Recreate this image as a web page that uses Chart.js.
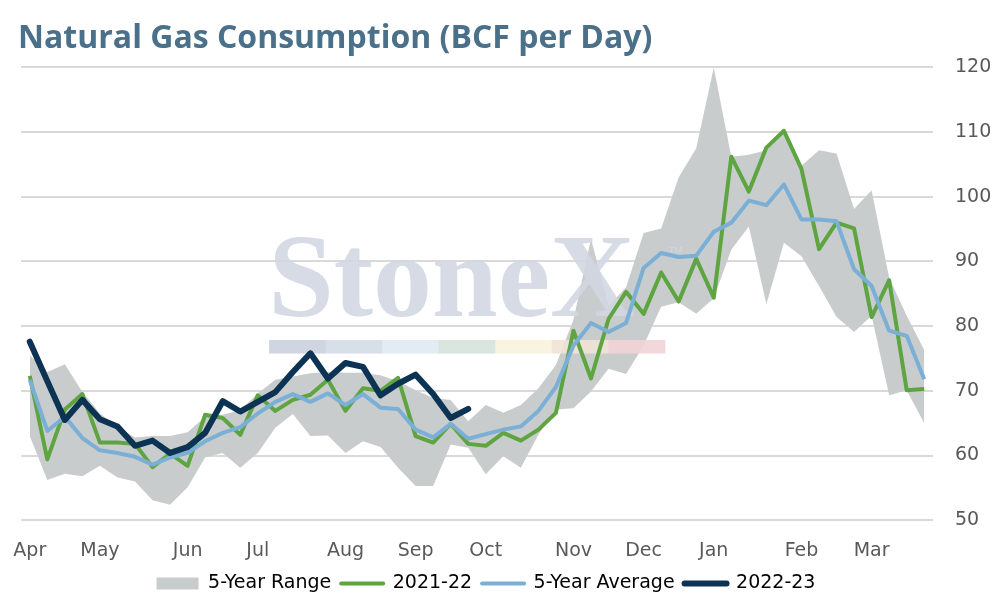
<!DOCTYPE html>
<html>
<head>
<meta charset="utf-8">
<script src="https://cdn.jsdelivr.net/npm/chart.js@4.4.1/dist/chart.umd.min.js"></script>
<style>
  html, body { margin: 0; padding: 0; background: #fff; }
  #wrap { width: 994px; height: 606px; }
</style>
</head>
<body>
<div id="wrap"><canvas id="gasChart"></canvas></div>
<script>
// weekly values, week 0 = first week of April
var months = ["Apr", "May", "Jun", "Jul", "Aug", "Sep", "Oct", "Nov", "Dec", "Jan", "Feb", "Mar"];
var monthWeek = [0, 4, 9, 13, 18, 22, 26, 31, 35, 39, 44, 48];

var rangeHigh = [75.5, 72.9, 74.1, 69.8, 66.5, 64.5, 62.8, 63.0, 63.0, 63.6,
  66.0, 66.3, 67.0, 69.6, 71.7, 72.2, 72.7, 72.9, 72.8, 72.8,
  72.4, 71.5, 70.1, 68.9, 68.6, 65.3, 67.8, 66.6, 67.8, 70.4,
  74.0, 81.0, 93.5, 83.1, 86.0, 94.4, 95.1, 103.0, 107.5, 120.0,
  106.2, 106.5, 107.2, 110.5, 104.8, 107.2, 106.7, 98.1, 101.0, 87.5,
  81.6, 76.3];
var rangeLow = [63.0, 56.2, 57.2, 56.8, 58.4, 56.6, 56.0, 53.1, 52.4, 55.1,
  59.7, 60.4, 58.1, 60.4, 64.3, 66.4, 63.0, 63.1, 60.4, 62.2,
  61.3, 58.1, 55.3, 55.3, 61.7, 61.2, 57.1, 59.9, 58.1, 63.2,
  67.1, 67.3, 69.9, 73.4, 72.6, 77.0, 83.0, 83.7, 81.9, 84.3,
  91.8, 95.4, 83.4, 92.9, 90.8, 86.2, 81.4, 79.1, 81.6, 69.3,
  70.1, 65.0];
var y2021 = [72.3, 59.4, 67.1, 69.5, 62.0, 62.0, 61.8, 58.2, 60.3, 58.4,
  66.3, 65.8, 63.2, 69.3, 66.9, 68.6, 69.4, 71.7, 66.9, 70.4,
  70.0, 72.0, 63.0, 62.0, 64.9, 61.8, 61.5, 63.5, 62.3, 64.0,
  66.6, 79.3, 71.9, 81.1, 85.3, 81.9, 88.3, 83.8, 90.4, 84.4,
  106.2, 100.8, 107.6, 110.2, 104.3, 91.9, 96.0, 95.1, 81.4, 87.1,
  70.1, 70.3];
var avg5 = [71.7, 63.8, 66.0, 62.7, 60.8, 60.4, 59.8, 58.6, 59.7, 60.4,
  62.2, 63.5, 64.4, 66.5, 68.3, 69.5, 68.3, 69.6, 67.8, 69.5,
  67.4, 67.2, 64.0, 62.8, 64.9, 62.6, 63.3, 64.0, 64.5, 66.9,
  70.6, 77.0, 80.5, 79.1, 80.5, 89.0, 91.3, 90.7, 90.9, 94.6,
  96.0, 99.4, 98.7, 101.9, 96.5, 96.5, 96.2, 88.8, 86.2, 79.3,
  78.5, 71.8];
var y2022 = [77.6, 71.5, 65.5, 68.6, 65.6, 64.5, 61.5, 62.3, 60.4, 61.3,
  63.5, 68.4, 66.8, 68.3, 69.8, 72.9, 75.8, 71.9, 74.3, 73.7,
  69.3, 71.1, 72.5, 69.5, 65.8, 67.2];

var gray = "#c9cccd";
var green = "#5ea541";
var blue = "#7bafd6";
var navy = "#0c3354";
var textGray = "#595959";
var tickFont = { family: "'DejaVu Sans', sans-serif", size: 19 };

function pts(arr) {
  return arr.map(function (v, i) { return { x: i, y: v }; });
}

// faint company mark, above the range band, under the lines
var watermark = {
  id: "watermark",
  afterLayout: function (chart) {
    // legend sits a little right of the plot centre
    chart.legend.left += 9;
    chart.legend.right += 9;
  },
  beforeDatasetDraw: function (chart, args) {
    if (args.index !== 2) return;
    var a = chart.chartArea;
    var w = a.right - a.left, h = a.bottom - a.top;
    var ctx = chart.ctx;
    ctx.save();
    ctx.fillStyle = "rgba(208,214,225,0.88)";
    ctx.font = "bold 118px 'Liberation Serif', serif";
    ctx.textBaseline = "alphabetic";
    ctx.fillText("StoneX", a.left + w * 0.271, a.top + h * 0.549);
    ctx.font = "16px 'Liberation Sans', sans-serif";
    ctx.fillText("™", a.left + w * 0.709, a.top + h * 0.42);
    var bar = ["#cbd2de", "#d3dbe7", "#deeaf4", "#d5e2dc", "#f8f3dc", "#f1e3d6", "#f1d4d6"];
    var bx = a.left + w * 0.272, bw = w * 0.062;
    ctx.globalAlpha = 0.9;
    for (var i = 0; i < bar.length; i++) {
      ctx.fillStyle = bar[i];
      ctx.fillRect(bx + i * bw, a.top + h * 0.602, bw + 0.5, h * 0.03);
    }
    ctx.restore();
  }
};

new Chart("gasChart", {
  type: "line",
  data: {
    datasets: [
      {
        label: "5-Year Range",
        data: pts(rangeHigh),
        borderWidth: 0,
        borderColor: gray,
        backgroundColor: gray,
        pointRadius: 0,
        fill: "+1",
        order: 5,
      },
      {
        label: "range-low",
        data: pts(rangeLow),
        borderWidth: 0,
        borderColor: gray,
        backgroundColor: gray,
        pointRadius: 0,
        fill: false,
        order: 4,
      },
      {
        label: "2021-22",
        data: pts(y2021),
        borderColor: green,
        borderWidth: 4,
        pointRadius: 0,
        fill: false,
        order: 3,
      },
      {
        label: "5-Year Average",
        data: pts(avg5),
        borderColor: blue,
        borderWidth: 4,
        pointRadius: 0,
        fill: false,
        order: 2,
      },
      {
        label: "2022-23",
        data: pts(y2022),
        borderColor: navy,
        borderWidth: 6,
        borderCapStyle: "round",
        pointRadius: 0,
        fill: false,
        order: 1,
      },
    ],
  },
  options: {
    responsive: true,
    maintainAspectRatio: false,
    animation: false,
    elements: { line: { tension: 0, borderJoinStyle: "round" } },
    layout: { padding: { left: 18, right: 4, top: 12, bottom: 3 } },
    scales: {
      x: {
        type: "linear",
        min: -0.5,
        max: 51.5,
        grid: { display: false, drawTicks: false },
        border: { display: false },
        afterBuildTicks: function (axis) {
          axis.ticks = monthWeek.map(function (v) { return { value: v }; });
        },
        afterFit: function (axis) {
          axis.height -= 17;
          axis.paddingLeft = 0;
          axis.paddingRight = 0;
        },
        ticks: {
          autoSkip: false,
          maxRotation: 0,
          padding: 19,
          color: textGray,
          font: tickFont,
          callback: function (value) { return months[monthWeek.indexOf(value)]; },
        },
      },
      y: {
        position: "right",
        min: 50,
        max: 120,
        grid: { color: "#d9d9d9", lineWidth: 2, drawTicks: false },
        border: { display: false },
        afterFit: function (axis) { axis.width = 57; },
        ticks: {
          stepSize: 10,
          padding: 22,
          color: textGray,
          font: tickFont,
        },
      },
      yLeft: {
        position: "left",
        min: 50,
        max: 120,
        grid: { display: false },
        border: { display: false },
        ticks: { display: false },
        afterFit: function (axis) { axis.width = 3; },
      },
    },
    plugins: {
      title: {
        display: true,
        text: "Natural Gas Consumption (BCF per Day)",
        align: "start",
        color: "#4b7089",
        font: { family: "'Open Sans', sans-serif", size: 32, weight: "bold" },
        padding: { top: 8, bottom: 9 },
      },
      legend: {
        position: "bottom",
        fullSize: false,
        labels: {
          usePointStyle: true,
          pointStyleWidth: 42,
          boxHeight: 12,
          padding: 10,
          color: textGray,
          font: tickFont,
          generateLabels: function () {
            return [
              { text: "5-Year Range", fillStyle: gray, strokeStyle: gray, lineWidth: 0, pointStyle: "rect", datasetIndex: 0 },
              { text: "2021-22", fillStyle: green, strokeStyle: green, lineWidth: 4, lineCap: "round", pointStyle: "line", datasetIndex: 2 },
              { text: "5-Year Average", fillStyle: blue, strokeStyle: blue, lineWidth: 4, lineCap: "round", pointStyle: "line", datasetIndex: 3 },
              { text: "2022-23", fillStyle: navy, strokeStyle: navy, lineWidth: 6, lineCap: "round", pointStyle: "line", datasetIndex: 4 },
            ];
          },
        },
      },
      tooltip: { enabled: false },
    },
  },
  plugins: [watermark],
});
</script>
</body>
</html>
